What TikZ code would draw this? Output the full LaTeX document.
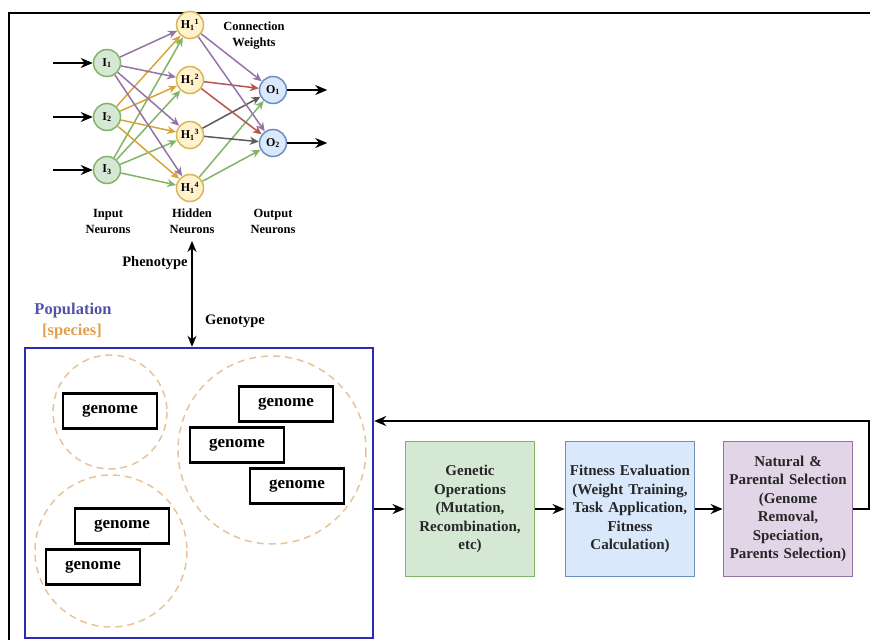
\documentclass[tikz,border=0pt]{standalone}
\usepackage{fontspec}
\setmainfont{Liberation Serif}
\usetikzlibrary{arrows.meta,positioning}
\definecolor{wpurple}{HTML}{9673A6}
\definecolor{worange}{HTML}{D9A437}
\definecolor{wgreen}{HTML}{82B366}
\definecolor{wred}{HTML}{B85450}
\definecolor{wgray}{HTML}{5A5A5A}
\definecolor{ngreen}{HTML}{D5E8D4}
\definecolor{nyellow}{HTML}{FFF2CC}
\definecolor{nyellowline}{HTML}{D6B656}
\definecolor{nblue}{HTML}{DAE8FC}
\definecolor{nblueline}{HTML}{6C8EBF}
\definecolor{npurple}{HTML}{E1D5E7}
\definecolor{popblue}{HTML}{2B2BB8}
\definecolor{poptext}{HTML}{5252A8}
\definecolor{spectext}{HTML}{E0A050}
\definecolor{specline}{HTML}{E6C49A}
\tikzset{
  neuron/.style={circle, draw, line width=1.5pt, minimum size=27pt, inner sep=0pt,
    font=\bfseries\fontsize{12}{14}\selectfont},
  wire/.style={line width=1.5pt, -{Stealth[length=9pt,width=8pt]}},
  bigarrow/.style={line width=2pt, -{Stealth[length=12pt,width=10pt]}},
  nnlabel/.style={align=center, font=\bfseries\fontsize{12.5}{16}\selectfont},
  genomebox/.style={draw, line width=2.2pt, minimum width=94pt, minimum height=35pt,
    font=\bfseries\fontsize{17}{19}\selectfont},
  procbox/.style={draw, line width=1.8pt, minimum width=129pt, minimum height=135pt,
    text width=126pt, inner sep=1pt, align=center, text=black!85,
    font=\bfseries\fontsize{15}{18.5}\selectfont},
}
\begin{document}
\begin{tikzpicture}[x=1pt, y=-1pt]
  \useasboundingbox (0,0) rectangle (870,640);
  % 外框
  \draw[line width=2pt] (870,13) -- (9,13) -- (9,640);

  % 神经网络
  \node[neuron, draw=wgreen, fill=ngreen] (i1) at (107,63) {$\mathbf{I}_{\mathbf{1}}$};
  \node[neuron, draw=wgreen, fill=ngreen] (i2) at (107,117) {$\mathbf{I}_{\mathbf{2}}$};
  \node[neuron, draw=wgreen, fill=ngreen] (i3) at (107,170) {$\mathbf{I}_{\mathbf{3}}$};
  \foreach \k/\y in {1/25, 2/80, 3/135, 4/188}
    \node[neuron, draw=nyellowline, fill=nyellow] (h\k) at (190,\y) {$\mathbf{H}_{\mathbf{1}}{}^{\mathbf{\k}}$};
  \node[neuron, draw=nblueline, fill=nblue] (o1) at (273,90) {$\mathbf{O}_{\mathbf{1}}$};
  \node[neuron, draw=nblueline, fill=nblue] (o2) at (273,143) {$\mathbf{O}_{\mathbf{2}}$};

  \foreach \k in {1,...,4} {
    \draw[wire, wpurple] (i1) -- (h\k);
    \draw[wire, worange] (i2) -- (h\k);
    \draw[wire, wgreen] (i3) -- (h\k);
  }
  \foreach \k in {1,2} {
    \draw[wire, wpurple] (h1) -- (o\k);
    \draw[wire, wred] (h2) -- (o\k);
    \draw[wire, wgray] (h3) -- (o\k);
    \draw[wire, wgreen] (h4) -- (o\k);
  }
  \foreach \k in {1,2,3}
    \draw[bigarrow] ([xshift=-40pt]i\k.west) -- (i\k);
  \foreach \k in {1,2}
    \draw[bigarrow] (o\k) -- ([xshift=40pt]o\k.east);

  \node[nnlabel] (weights) at (254,36) {Connection\\Weights};
  \node[nnlabel] (inlab) at (108,221) {Input\\Neurons};
  \node[nnlabel] (hidlab) at (192,221) {Hidden\\Neurons};
  \node[nnlabel] (outlab) at (273,221) {Output\\Neurons};

  % 种群
  \node[draw=popblue, line width=2.4pt, minimum width=348pt, minimum height=290pt] (pop) at (199,493) {};
  \node[font=\bfseries\fontsize{16.5}{19}\selectfont, text=poptext] (poplab) at (73,311) {Population};
  \node[font=\bfseries\fontsize{16.5}{19}\selectfont, text=spectext] (speclab) at (72,332) {[species]};

  \draw[line width=1.8pt, {Stealth[length=11pt,width=9pt]}-{Stealth[length=11pt,width=9pt]}]
    ([yshift=-4pt]hidlab.south) -- (hidlab.south |- pop.north);
  \node[font=\bfseries\fontsize{14.5}{17}\selectfont] (pheno) at (155,263) {Phenotype};
  \node[font=\bfseries\fontsize{14.5}{17}\selectfont] (geno) at (235,321) {Genotype};

  \draw[specline, line width=1.5pt, dash pattern=on 7pt off 5pt] (110,412) circle (57);
  \draw[specline, line width=1.5pt, dash pattern=on 7pt off 5pt] (272,450) circle (94);
  \draw[specline, line width=1.5pt, dash pattern=on 7pt off 5pt] (111,551) circle (76);

  \node[genomebox] (g1) at (110,411) {genome};
  \node[genomebox] (g2) at (286,404) {genome};
  \node[genomebox] (g3) at (237,445) {genome};
  \node[genomebox] (g4) at (297,486) {genome};
  \node[genomebox] (g5) at (122,526) {genome};
  \node[genomebox] (g6) at (93,567) {genome};

  % 进化流程
  \node[procbox, draw=wgreen, fill=ngreen] (gen) at (470,509) {Genetic\\Operations\\(Mutation,\\Recombination,\\etc)};
  \node[procbox, draw=nblueline, fill=nblue] (fit) at (630,509) {Fitness Evaluation\\(Weight Training,\\Task Application,\\Fitness\\Calculation)};
  \node[procbox, draw=wpurple, fill=npurple] (sel) at (788,509) {Natural \&\\Parental Selection\\(Genome\\Removal,\\Speciation,\\Parents Selection)};

  \coordinate (back) at (869,421);
  \draw[bigarrow] (pop.east |- gen.west) -- (gen);
  \draw[bigarrow] (gen) -- (fit);
  \draw[bigarrow] (fit) -- (sel);
  \draw[bigarrow] (sel.east) -| (back) -- (back -| pop.east);
\end{tikzpicture}
\end{document}
